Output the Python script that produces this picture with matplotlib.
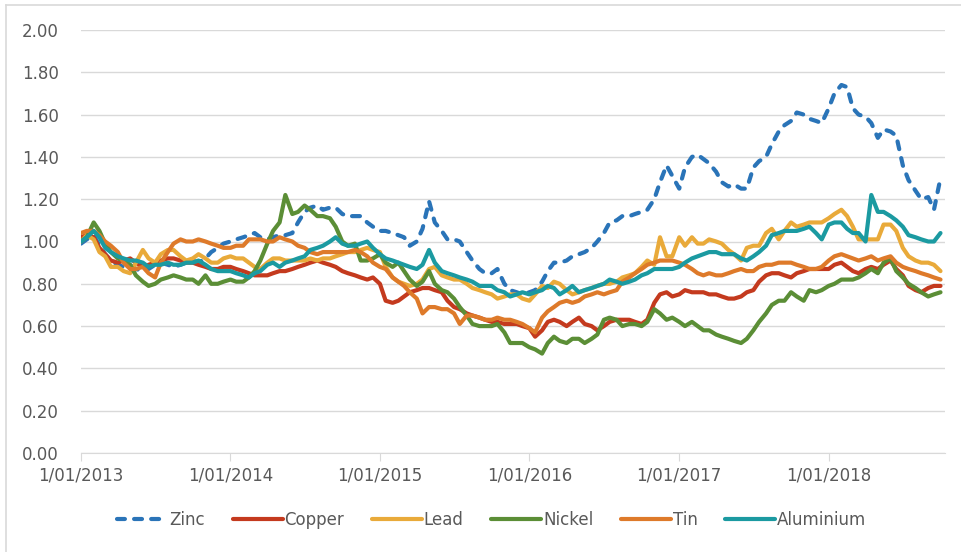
import matplotlib
matplotlib.use("Agg")
import matplotlib.pyplot as plt
import matplotlib.dates as mdates
from matplotlib.lines import Line2D
import numpy as np
import pandas as pd

# readings on the 1st and 15th of each month, Jan 2013 .. 1 Oct 2018
dates = pd.date_range("2013-01-01", "2018-10-01", freq="SMS")

zinc = [0.99, 1.01, 1.03, 0.98, 0.94, 0.91, 0.89, 0.88, 0.89, 0.87, 0.86, 0.87,
        0.89, 0.90, 0.89, 0.88, 0.89, 0.90, 0.91, 0.90, 0.92, 0.95, 0.97, 0.99,
        1.00, 1.01, 1.02, 1.03, 1.04, 1.02, 1.01, 1.02, 1.03, 1.03, 1.04, 1.09,
        1.14, 1.16, 1.17, 1.15, 1.16, 1.16, 1.13, 1.12, 1.12, 1.12, 1.09, 1.07,
        1.05, 1.05, 1.04, 1.03, 1.02, 0.98, 1.00, 1.06, 1.19, 1.09, 1.05, 1.01,
        1.01, 1.00, 0.95, 0.91, 0.87, 0.85, 0.85, 0.87, 0.80, 0.77, 0.76, 0.75,
        0.76, 0.77, 0.81, 0.86, 0.90, 0.90, 0.91, 0.93, 0.94, 0.95, 0.97, 1.00,
        1.04, 1.09, 1.10, 1.12, 1.12, 1.13, 1.14, 1.15, 1.20, 1.28, 1.36, 1.31,
        1.25, 1.35, 1.40, 1.41, 1.39, 1.37, 1.33, 1.28, 1.26, 1.27, 1.25, 1.25,
        1.35, 1.38, 1.40, 1.46, 1.52, 1.55, 1.57, 1.61, 1.60, 1.58, 1.57, 1.56,
        1.63, 1.70, 1.74, 1.73, 1.63, 1.60, 1.59, 1.56, 1.49, 1.53, 1.52, 1.50,
        1.36, 1.29, 1.24, 1.20, 1.21, 1.15, 1.30]
copper = [1.02, 1.03, 1.02, 0.97, 0.94, 0.91, 0.90, 0.91, 0.92, 0.90, 0.88, 0.89,
          0.90, 0.91, 0.92, 0.92, 0.91, 0.90, 0.90, 0.89, 0.88, 0.87, 0.87, 0.88,
          0.88, 0.87, 0.86, 0.85, 0.84, 0.84, 0.84, 0.85, 0.86, 0.86, 0.87, 0.88,
          0.89, 0.90, 0.91, 0.90, 0.89, 0.88, 0.86, 0.85, 0.84, 0.83, 0.82, 0.83,
          0.80, 0.72, 0.71, 0.72, 0.74, 0.76, 0.77, 0.78, 0.78, 0.77, 0.76, 0.72,
          0.69, 0.68, 0.66, 0.65, 0.64, 0.63, 0.62, 0.62, 0.61, 0.61, 0.61, 0.60,
          0.59, 0.55, 0.58, 0.62, 0.63, 0.62, 0.60, 0.62, 0.64, 0.61, 0.60, 0.58,
          0.60, 0.62, 0.63, 0.63, 0.63, 0.62, 0.61, 0.63, 0.71, 0.75, 0.76, 0.74,
          0.75, 0.77, 0.76, 0.76, 0.76, 0.75, 0.75, 0.74, 0.73, 0.73, 0.74, 0.76,
          0.77, 0.81, 0.84, 0.85, 0.85, 0.84, 0.83, 0.85, 0.86, 0.87, 0.87, 0.87,
          0.87, 0.89, 0.90, 0.88, 0.86, 0.85, 0.87, 0.88, 0.87, 0.89, 0.91, 0.87,
          0.84, 0.79, 0.77, 0.76, 0.78, 0.79, 0.79]
lead = [1.00, 1.03, 1.01, 0.95, 0.93, 0.88, 0.88, 0.86, 0.85, 0.90, 0.96, 0.92,
        0.90, 0.94, 0.96, 0.96, 0.93, 0.91, 0.92, 0.94, 0.92, 0.90, 0.90, 0.92,
        0.93, 0.92, 0.92, 0.90, 0.88, 0.87, 0.90, 0.92, 0.92, 0.91, 0.91, 0.91,
        0.91, 0.92, 0.91, 0.92, 0.92, 0.93, 0.94, 0.95, 0.95, 0.96, 0.97, 0.96,
        0.95, 0.88, 0.83, 0.81, 0.80, 0.79, 0.80, 0.82, 0.87, 0.88, 0.84, 0.83,
        0.82, 0.82, 0.80, 0.78, 0.77, 0.76, 0.75, 0.73, 0.74, 0.75, 0.75, 0.73,
        0.72, 0.75, 0.79, 0.78, 0.81, 0.80, 0.77, 0.75, 0.76, 0.77, 0.78, 0.79,
        0.80, 0.80, 0.81, 0.83, 0.84, 0.85, 0.88, 0.91, 0.89, 1.02, 0.93, 0.93,
        1.02, 0.98, 1.02, 0.99, 0.99, 1.01, 1.00, 0.99, 0.96, 0.94, 0.91, 0.97,
        0.98, 0.98, 1.04, 1.06, 1.01, 1.05, 1.09, 1.07, 1.08, 1.09, 1.09, 1.09,
        1.11, 1.13, 1.15, 1.12, 1.07, 1.01, 1.01, 1.01, 1.01, 1.08, 1.08, 1.05,
        0.97, 0.93, 0.91, 0.90, 0.90, 0.89, 0.86]
nickel = [1.00, 1.02, 1.09, 1.05, 0.99, 0.95, 0.92, 0.91, 0.89, 0.84, 0.81, 0.79,
          0.80, 0.82, 0.83, 0.84, 0.83, 0.82, 0.82, 0.80, 0.84, 0.80, 0.80, 0.81,
          0.82, 0.81, 0.81, 0.83, 0.86, 0.91, 0.99, 1.05, 1.09, 1.22, 1.13, 1.14,
          1.17, 1.15, 1.12, 1.12, 1.11, 1.07, 1.00, 0.98, 0.99, 0.91, 0.91, 0.92,
          0.94, 0.90, 0.88, 0.90, 0.86, 0.82, 0.79, 0.81, 0.86, 0.80, 0.77, 0.76,
          0.73, 0.69, 0.65, 0.61, 0.60, 0.60, 0.60, 0.61, 0.57, 0.52, 0.52, 0.52,
          0.50, 0.49, 0.47, 0.52, 0.55, 0.53, 0.52, 0.54, 0.54, 0.52, 0.54, 0.56,
          0.63, 0.64, 0.63, 0.60, 0.61, 0.61, 0.60, 0.62, 0.68, 0.66, 0.63, 0.64,
          0.62, 0.60, 0.62, 0.60, 0.58, 0.58, 0.56, 0.55, 0.54, 0.53, 0.52, 0.54,
          0.58, 0.62, 0.66, 0.70, 0.72, 0.72, 0.76, 0.74, 0.72, 0.77, 0.76, 0.77,
          0.79, 0.80, 0.82, 0.82, 0.82, 0.83, 0.85, 0.87, 0.85, 0.90, 0.92, 0.86,
          0.83, 0.80, 0.78, 0.76, 0.74, 0.75, 0.76]
tin = [1.04, 1.05, 1.05, 1.03, 1.00, 0.98, 0.95, 0.90, 0.87, 0.87, 0.88, 0.85,
       0.83, 0.90, 0.95, 0.99, 1.01, 1.00, 1.00, 1.01, 1.00, 0.99, 0.98, 0.97,
       0.97, 0.98, 0.98, 1.01, 1.01, 1.01, 1.00, 1.00, 1.02, 1.01, 1.00, 0.98,
       0.97, 0.95, 0.94, 0.95, 0.95, 0.95, 0.95, 0.95, 0.96, 0.95, 0.93, 0.90,
       0.88, 0.87, 0.83, 0.81, 0.79, 0.76, 0.73, 0.66, 0.69, 0.69, 0.68, 0.68,
       0.66, 0.61, 0.65, 0.65, 0.64, 0.63, 0.63, 0.64, 0.63, 0.63, 0.62, 0.61,
       0.59, 0.57, 0.64, 0.67, 0.69, 0.71, 0.72, 0.71, 0.72, 0.74, 0.75, 0.76,
       0.75, 0.76, 0.77, 0.81, 0.83, 0.85, 0.87, 0.89, 0.90, 0.91, 0.91, 0.91,
       0.90, 0.89, 0.87, 0.85, 0.84, 0.85, 0.84, 0.84, 0.85, 0.86, 0.87, 0.86,
       0.86, 0.88, 0.89, 0.89, 0.90, 0.90, 0.90, 0.89, 0.88, 0.87, 0.87, 0.88,
       0.91, 0.93, 0.94, 0.93, 0.92, 0.91, 0.92, 0.93, 0.91, 0.92, 0.93, 0.90,
       0.88, 0.87, 0.86, 0.85, 0.84, 0.83, 0.82]
aluminium = [1.00, 1.02, 1.05, 1.02, 0.97, 0.95, 0.93, 0.92, 0.91, 0.91, 0.90, 0.88,
             0.89, 0.89, 0.90, 0.89, 0.89, 0.90, 0.90, 0.91, 0.89, 0.87, 0.86, 0.86,
             0.86, 0.85, 0.84, 0.83, 0.85, 0.86, 0.89, 0.90, 0.88, 0.90, 0.91, 0.92,
             0.93, 0.96, 0.97, 0.98, 1.00, 1.02, 0.99, 0.98, 0.98, 0.99, 1.00, 0.97,
             0.94, 0.92, 0.91, 0.90, 0.89, 0.88, 0.87, 0.89, 0.96, 0.90, 0.86, 0.85,
             0.84, 0.83, 0.82, 0.81, 0.79, 0.79, 0.79, 0.77, 0.76, 0.74, 0.75, 0.76,
             0.75, 0.76, 0.77, 0.79, 0.78, 0.75, 0.77, 0.79, 0.76, 0.77, 0.78, 0.79,
             0.80, 0.82, 0.81, 0.80, 0.81, 0.82, 0.84, 0.85, 0.87, 0.87, 0.87, 0.87,
             0.88, 0.90, 0.92, 0.93, 0.94, 0.95, 0.95, 0.94, 0.94, 0.94, 0.92, 0.91,
             0.93, 0.95, 0.98, 1.03, 1.04, 1.05, 1.05, 1.05, 1.06, 1.07, 1.04, 1.01,
             1.08, 1.09, 1.09, 1.06, 1.04, 1.04, 1.00, 1.22, 1.14, 1.14, 1.12, 1.10,
             1.07, 1.03, 1.02, 1.01, 1.00, 1.00, 1.04]

series = [("Zinc", zinc, "#2a74b8"), ("Copper", copper, "#c43a1e"),
          ("Lead", lead, "#e9aa3a"), ("Nickel", nickel, "#5b8e36"),
          ("Tin", tin, "#de7a2a"), ("Aluminium", aluminium, "#1b9aa1")]

GRID = "#d9d9d9"
TXT = "#595959"

fig = plt.figure(figsize=(9.61, 5.52), dpi=100)
ax = fig.add_axes([81 / 961, 1 - 453 / 552, (945 - 81) / 961, (453 - 30) / 552])

for name, vals, col in series:
    ls = (0, (1.9, 2.2)) if name == "Zinc" else "-"
    ax.plot(dates, vals, color=col, lw=3, ls=ls, label=name,
            solid_capstyle="round", dash_capstyle="round", solid_joinstyle="round")

ax.set_ylim(0, 2.0)
ax.set_yticks(np.arange(0, 2.01, 0.2))
ax.yaxis.set_major_formatter(matplotlib.ticker.FormatStrFormatter("%.2f"))
ax.set_xlim(pd.Timestamp("2013-01-01"), pd.Timestamp("2018-10-12"))
ax.xaxis.set_major_locator(mdates.YearLocator())
ax.xaxis.set_major_formatter(matplotlib.ticker.FuncFormatter(
    lambda v, _: (lambda d: f"{d.day}/{d.month:02d}/{d.year}")(mdates.num2date(v))))

ax.grid(axis="y", color=GRID, lw=1)
ax.set_axisbelow(True)
for s in ["top", "right", "left"]:
    ax.spines[s].set_visible(False)
ax.spines["bottom"].set_color(GRID)
ax.tick_params(axis="y", length=0, pad=16, labelsize=12, labelcolor=TXT)
ax.tick_params(axis="x", length=6, color=GRID, pad=4, labelsize=12, labelcolor=TXT)

fig.legend(loc="center", bbox_to_anchor=(492 / 961, 1 - 520 / 552), ncol=6,
           frameon=False, fontsize=12, handlelength=3.0, columnspacing=1.65,
           handletextpad=0.12, labelcolor=TXT)

# chart-area border (left and top edges visible in the crop)
fig.add_artist(Line2D([6 / 961, 6 / 961], [0, 1 - 5 / 552], color=GRID, lw=1.2,
                      transform=fig.transFigure))
fig.add_artist(Line2D([6 / 961, 1], [1 - 5 / 552, 1 - 5 / 552], color=GRID, lw=1.2,
                      transform=fig.transFigure))

fig.savefig("out.png", dpi=100)
